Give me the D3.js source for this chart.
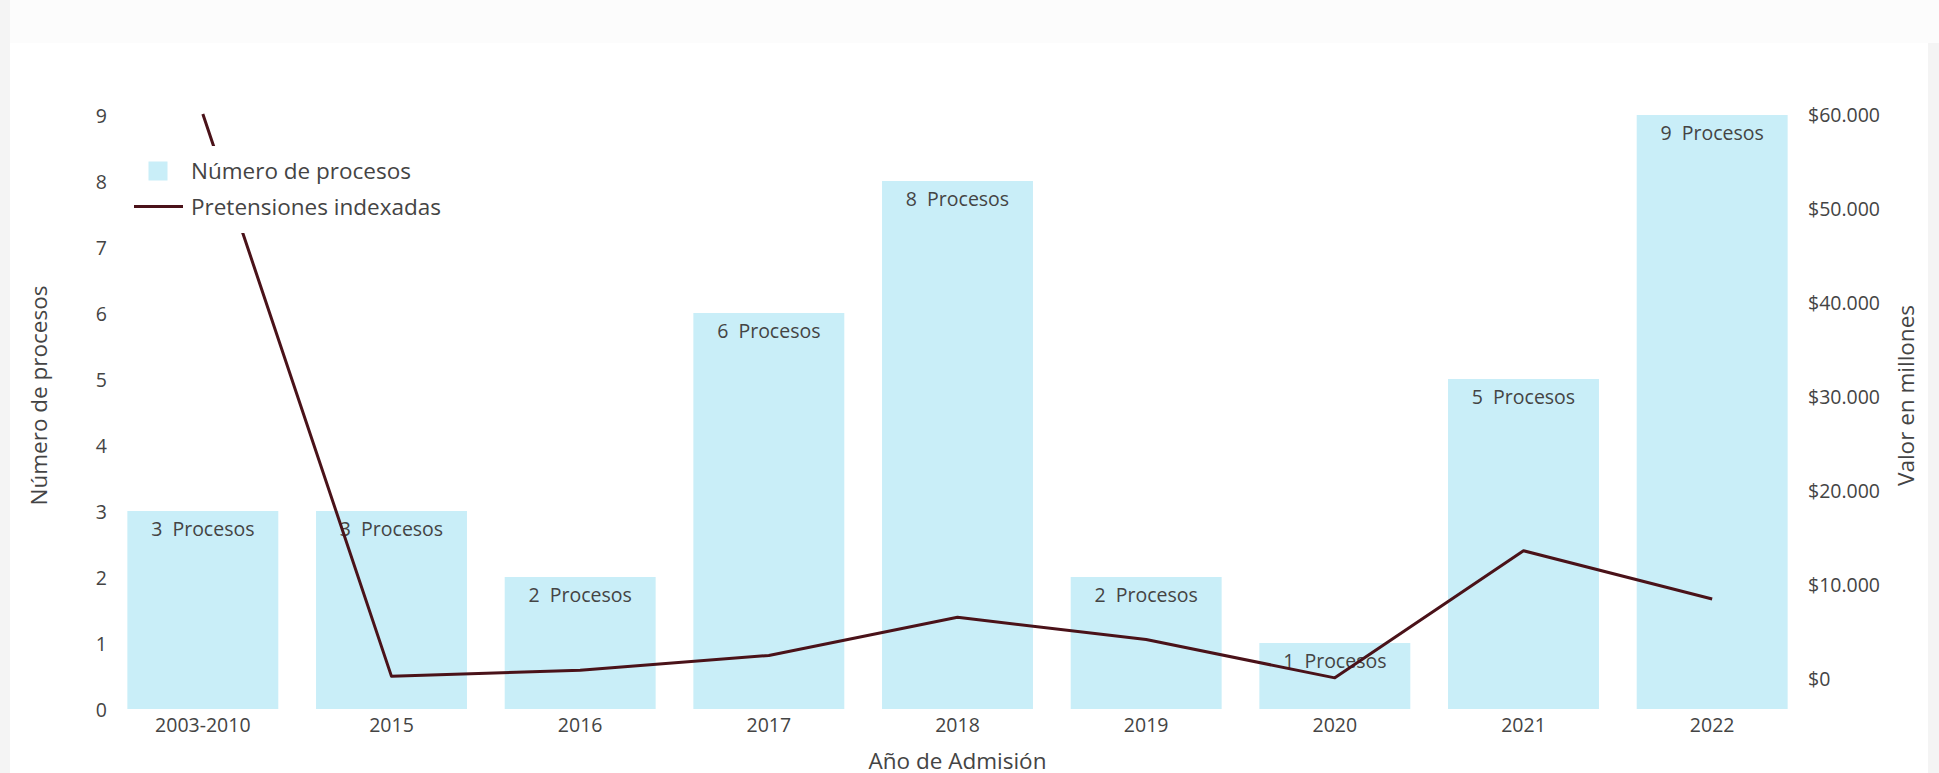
<!DOCTYPE html>
<html>
<head>
<meta charset="utf-8">
<script src="https://cdn.jsdelivr.net/npm/d3@7"></script>
<style>
  html, body { margin: 0; padding: 0; background: #f4f4f4; }
  svg { display: block; font-family: "Open Sans", sans-serif; }
</style>
</head>
<body>
<svg id="chart" width="1939" height="773"></svg>
<script>
// ---- data ----
const categories = ["2003-2010", "2015", "2016", "2017", "2018", "2019", "2020", "2021", "2022"];
const procesos = [3, 3, 2, 6, 8, 2, 1, 5, 9];
const pretensiones = [60100, 250, 900, 2480, 6540, 4170, 90, 13620, 8490];
const leftTicks = [0, 1, 2, 3, 4, 5, 6, 7, 8, 9];
const rightTicks = [0, 10000, 20000, 30000, 40000, 50000, 60000];
const seriesNames = ["Número de procesos", "Pretensiones indexadas"];
const axisTitles = { x: "Año de Admisión", yLeft: "Número de procesos", yRight: "Valor en millones" };

// ---- layout ----
const W = 1939, H = 773;
const plot = { left: 108.5, right: 1806.5, top: 82, bottom: 709 };
const barColor = "#c9eef8";
const lineColor = "#4a1219";
const textColor = "#444";

const svg = d3.select("#chart");

// backgrounds
svg.append("rect").attr("x", 0).attr("y", 0).attr("width", W).attr("height", H).attr("fill", "#f4f4f4");
svg.append("rect").attr("x", 10).attr("y", 0).attr("width", W - 10).attr("height", 43).attr("fill", "#fcfcfc");
svg.append("rect").attr("x", 10).attr("y", 43).attr("width", 1918).attr("height", H - 43).attr("fill", "#ffffff");

const x = d3.scaleBand().domain(categories).range([plot.left, plot.right]).paddingInner(0.2).paddingOuter(0.1);
const yL = d3.scaleLinear().domain([0, 9.5]).range([plot.bottom, plot.top]);
const yR = d3.scaleLinear().domain([-3223, 63500]).range([plot.bottom, plot.top]);

const locale = d3.formatLocale({ decimal: ",", thousands: ".", grouping: [3], currency: ["$", ""] });
const money = locale.format("$,.0f");

// bars
const data = categories.map((c, i) => ({ c, n: procesos[i], v: pretensiones[i] }));
svg.append("g").selectAll("rect").data(data).join("rect")
  .attr("x", d => x(d.c))
  .attr("y", d => yL(d.n))
  .attr("width", x.bandwidth())
  .attr("height", d => yL(0) - yL(d.n))
  .attr("fill", barColor);

// bar labels
svg.append("g").selectAll("text").data(data).join("text")
  .attr("x", d => x(d.c) + x.bandwidth() / 2)
  .attr("y", d => yL(d.n) + 25)
  .attr("text-anchor", "middle")
  .attr("font-size", "19.5px")
  .attr("fill", textColor)
  .style("white-space", "pre")
  .text(d => d.n + "  Procesos");

// line
const line = d3.line().x(d => x(d.c) + x.bandwidth() / 2).y(d => yR(d.v));
svg.append("path").datum(data)
  .attr("d", line)
  .attr("fill", "none")
  .attr("stroke", lineColor)
  .attr("stroke-width", 3)
  .attr("stroke-linejoin", "round");

// axes
const xAxis = d3.axisBottom(x).tickSize(0).tickPadding(0);
const gx = svg.append("g").attr("transform", `translate(0,${plot.bottom})`).call(xAxis);
gx.select(".domain").remove();
gx.selectAll("text").attr("dy", null).attr("y", 22.5).attr("font-size", "19.5px").attr("fill", textColor).attr("font-family", "Open Sans");

const yAxisL = d3.axisLeft(yL).tickValues(leftTicks).tickSize(0).tickPadding(1.5).tickFormat(d3.format("d"));
const gyl = svg.append("g").attr("transform", `translate(${plot.left},0)`).call(yAxisL);
gyl.select(".domain").remove();
gyl.selectAll("text").attr("dy", "0.36em").attr("font-size", "19.5px").attr("fill", textColor).attr("font-family", "Open Sans");

const yAxisR = d3.axisRight(yR).tickValues(rightTicks).tickSize(0).tickPadding(1.5).tickFormat(money);
const gyr = svg.append("g").attr("transform", `translate(${plot.right},0)`).call(yAxisR);
gyr.select(".domain").remove();
gyr.selectAll("text").attr("dy", "0.36em").attr("font-size", "19.5px").attr("fill", textColor).attr("font-family", "Open Sans");

// axis titles
const midY = (plot.top + plot.bottom) / 2;
svg.append("text").attr("x", (plot.left + plot.right) / 2).attr("y", 769)
  .attr("text-anchor", "middle").attr("font-size", "22.5px").attr("fill", textColor).text(axisTitles.x);
svg.append("text").attr("transform", `translate(47,${midY}) rotate(-90)`)
  .attr("text-anchor", "middle").attr("font-size", "22.5px").attr("fill", textColor).text(axisTitles.yLeft);
svg.append("text").attr("transform", `translate(1914,${midY}) rotate(-90)`)
  .attr("text-anchor", "middle").attr("font-size", "22.5px").attr("fill", textColor).text(axisTitles.yRight);

// legend (white background hides the line behind it)
const lg = svg.append("g");
lg.append("rect").attr("x", 128).attr("y", 146).attr("width", 322).attr("height", 87).attr("fill", "#ffffff");
lg.append("rect").attr("x", 148.5).attr("y", 161.5).attr("width", 19).attr("height", 19).attr("fill", barColor);
lg.append("line").attr("x1", 134).attr("x2", 183).attr("y1", 206.5).attr("y2", 206.5)
  .attr("stroke", lineColor).attr("stroke-width", 3);
lg.append("text").attr("x", 191).attr("y", 179).attr("font-size", "22.5px").attr("fill", textColor).text(seriesNames[0]);
lg.append("text").attr("x", 191).attr("y", 214.5).attr("font-size", "22.5px").attr("fill", textColor).text(seriesNames[1]);
</script>
</body>
</html>
